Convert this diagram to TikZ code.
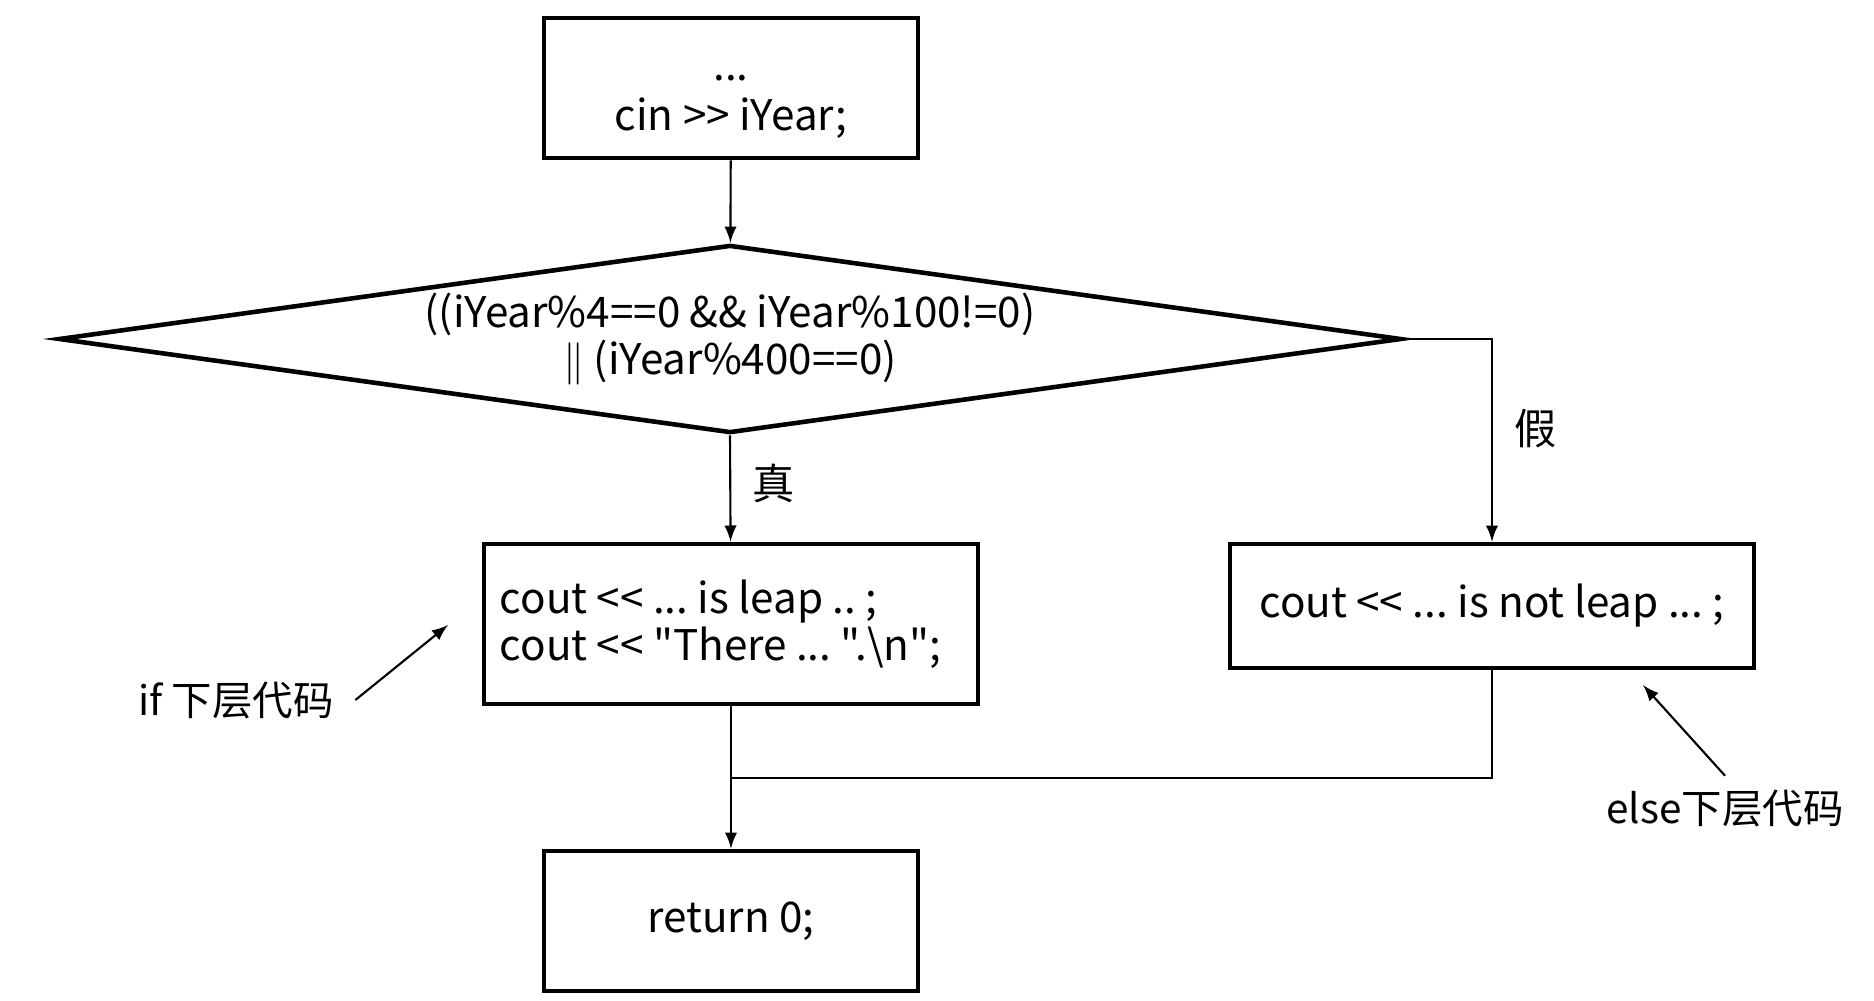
\documentclass[tikz,border=0pt]{standalone}
\usepackage{fontspec}
\newfontfamily\cjkfont{Noto Sans CJK SC}
\usetikzlibrary{shapes,arrows,positioning,calc}

\tikzset{
    codebox/.style={draw, line width=1.3pt, rectangle, inner sep=0pt},
    decision/.style={draw, line width=1.3pt, diamond, aspect=7.3, inner sep=0pt, align=center,
        minimum width=13.42cm, minimum height=1.88cm},
    flowline/.style={draw, line width=0.6pt, -latex},
    joinline/.style={draw, line width=0.6pt},
    note/.style={inner sep=2pt, font=\cjkfont\fontsize{11.5}{13}\selectfont}
}

\begin{document}
\frenchspacing
\begin{tikzpicture}[x=0.01cm, y=-0.01cm, font=\cjkfont\fontsize{12}{13.2}\selectfont]
    \useasboundingbox (0,0) rectangle (1874,1000);

    \node[codebox, minimum width=3.74cm, minimum height=1.4cm, align=center] (input) at (731,88)
        {\rule{0pt}{12pt}...\\[1pt]cin >> iYear;};
    \node[decision] (test) at (730,339)
        {((iYear\%4==0 \&\& iYear\%100!=0)\\$\|$ (iYear\%400==0)};
    \node[codebox, minimum height=1.6cm, inner xsep=0.16cm, text width=4.62cm, align=flush left] (leapbox) at (731,624)
        {cout << ... is leap .. ;\\cout << "There ... ".\textbackslash n";};
    \node[codebox, minimum width=5.24cm, minimum height=1.24cm] (notbox) at (1492,606)
        {cout << ... is not leap ... ;};
    \node[codebox, minimum width=3.74cm, minimum height=1.4cm] (retbox) at (731,921)
        {return 0;};

    \node[note, inner xsep=6pt] (ifnote) at (236,700) {if 下层代码};
    \node[note, inner ysep=3.7pt] (elsenote) at (1725,808) {else下层代码};
    \coordinate (ifend) at (448,625);
    \coordinate (elseend) at (1643,685);
    \coordinate (merge) at (731,778);

    \draw[flowline] (input) -- (test);
    \draw[flowline] (test.south) -- node[pos=0.45, right, inner sep=6pt] {真} (leapbox);
    \draw[flowline] (test.east) -| node[pos=0.72, right, inner sep=6pt] {假} (notbox);
    \draw[flowline] (leapbox) -- (retbox);
    \draw[joinline] (notbox) |- (merge);

    \draw[flowline] (ifnote.east) -- (ifend);
    \draw[flowline] (elsenote.north) -- (elseend);
\end{tikzpicture}
\end{document}
